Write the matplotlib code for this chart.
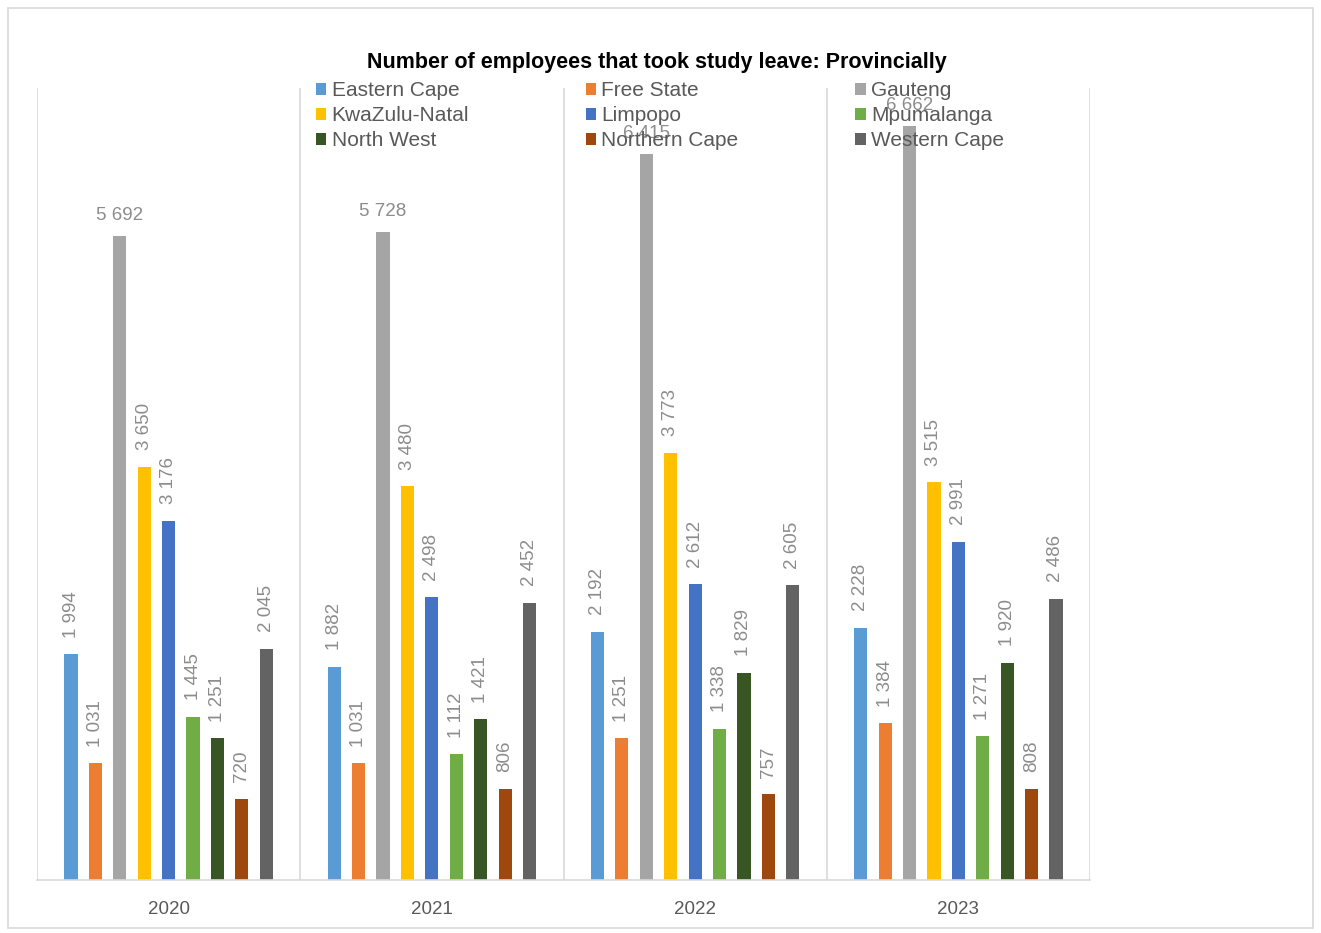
import matplotlib
matplotlib.use("Agg")
import matplotlib.pyplot as plt
from matplotlib.patches import Patch, Rectangle
import numpy as np

plt.rcParams['font.family'] = ['Liberation Sans', 'DejaVu Sans']

years = ["2020", "2021", "2022", "2023"]
provinces = ["Eastern Cape", "Free State", "Gauteng", "KwaZulu-Natal", "Limpopo",
             "Mpumalanga", "North West", "Northern Cape", "Western Cape"]
colors = ["#5B9BD5", "#ED7D31", "#A5A5A5", "#FFC000", "#4472C4",
          "#70AD47", "#375623", "#9E480E", "#636363"]

eastern_cape = [1994, 1882, 2192, 2228]
free_state = [1031, 1031, 1251, 1384]
gauteng = [5692, 5728, 6415, 6662]
kwazulu_natal = [3650, 3480, 3773, 3515]
limpopo = [3176, 2498, 2612, 2991]
mpumalanga = [1445, 1112, 1338, 1271]
north_west = [1251, 1421, 1829, 1920]
northern_cape = [720, 806, 757, 808]
western_cape = [2045, 2452, 2605, 2486]

series = [eastern_cape, free_state, gauteng, kwazulu_natal, limpopo,
          mpumalanga, north_west, northern_cape, western_cape]

W, H = 1321, 933
fig = plt.figure(figsize=(W / 100, H / 100), dpi=100)

# outer chart border
fig.patches.append(Rectangle((8 / W, 5 / H), 1305 / W, 920 / H, transform=fig.transFigure,
                             fill=False, edgecolor="#D9D9D9", linewidth=1.2))

ax = fig.add_axes([37 / W, 1 - 880 / H, (1090 - 37) / W, (880 - 88) / H])

x = np.arange(len(years))
step = 0.0927
width = 0.05
label_color = "#8C8C8C"

for i, (name, vals, col) in enumerate(zip(provinces, series, colors)):
    pos = x + (i - 4) * step
    bars = ax.bar(pos, vals, width=width, color=col, label=name, zorder=2)
    for b, v in zip(bars, vals):
        txt = f"{v:,}".replace(",", " ")
        cx = b.get_x() + b.get_width() / 2
        if name == "Gauteng":
            ax.annotate(txt, (cx, v), xytext=(0, 11.5), textcoords="offset points",
                        ha="center", va="baseline", fontsize=13.5, color=label_color,
                        zorder=5)
        else:
            ax.annotate(txt, (cx, v), xytext=(0, 12), textcoords="offset points",
                        ha="center", va="bottom", rotation=90, fontsize=13.5,
                        color=label_color, zorder=5)

ax.set_xlim(-0.5, 3.5)
ax.set_ylim(0, 7000)
ax.set_yticks([])
ax.set_xticks(x)
ax.set_xticklabels(years, fontsize=13.5, color="#595959")
ax.tick_params(axis="x", length=0, pad=15)
ax.set_xticks(np.arange(-0.5, 4, 1), minor=True)
ax.tick_params(axis="x", which="minor", length=0)
ax.grid(which="minor", axis="x", color="#D9D9D9", linewidth=1.2, zorder=0)
for s in ["top", "right", "left"]:
    ax.spines[s].set_visible(False)
ax.spines["bottom"].set_color("#D9D9D9")
ax.spines["bottom"].set_linewidth(1.2)

fig.text(657 / W, 1 - 68 / H, "Number of employees that took study leave: Provincially",
         ha="center", va="baseline", fontsize=15.5, fontweight="bold", color="#000000")

# legend laid out row by row in three columns
handles = [Patch(facecolor=c, edgecolor="none") for c in colors]
order = [0, 3, 6, 1, 4, 7, 2, 5, 8]
leg = fig.legend([handles[k] for k in order], [provinces[k] for k in order],
                 ncol=3, loc="upper left", bbox_to_anchor=(316 / W, 1 - 81.5 / H),
                 frameon=False, fontsize=15, handlelength=0.5, handleheight=0.5,
                 handletextpad=0.25, columnspacing=5.6, labelspacing=0.28,
                 borderpad=0, borderaxespad=0, labelcolor="#595959")
leg.set_zorder(10)

fig.savefig("out.png", dpi=100)
